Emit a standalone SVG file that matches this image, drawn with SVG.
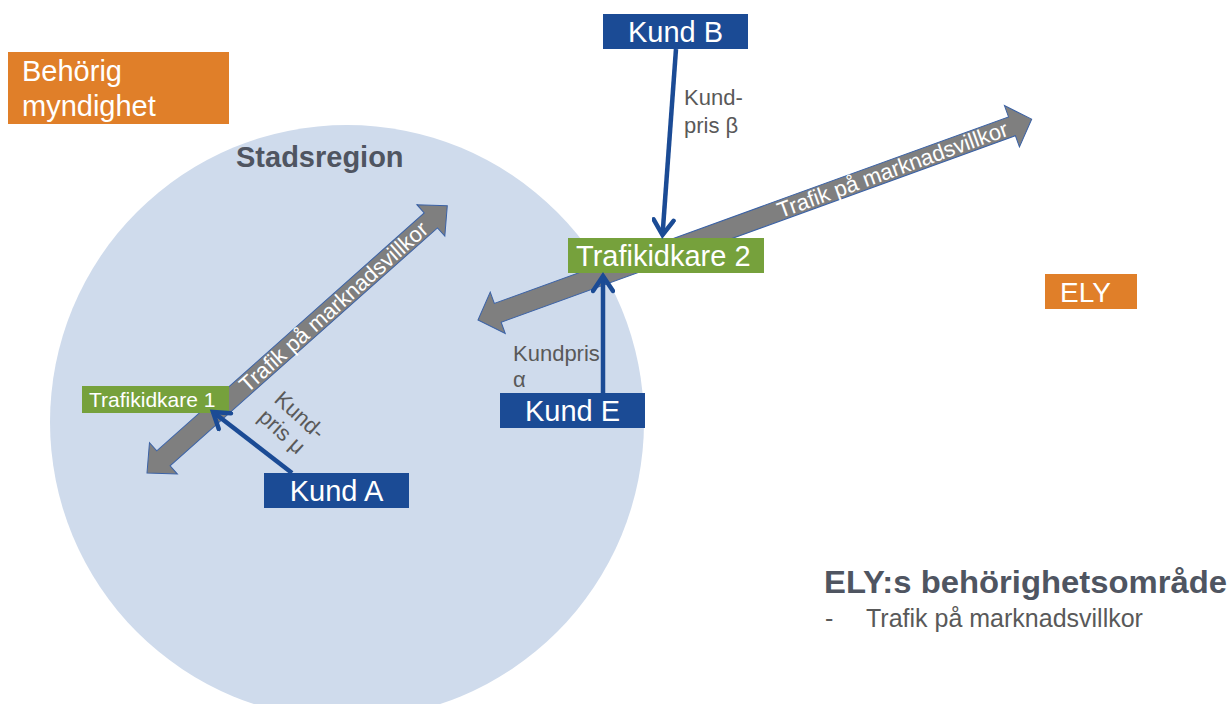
<svg xmlns="http://www.w3.org/2000/svg" width="1232" height="704" viewBox="0 0 1232 704">
<style>
.lbl{font-family:"Liberation Sans",Arial,sans-serif;fill:#ffffff}
.gray{font-family:"Liberation Sans",Arial,sans-serif;fill:#595959}
.bold{font-family:"Liberation Sans",Arial,sans-serif;font-weight:bold;fill:#4f5561}
.blue{fill:#1b4b95}
.orange{fill:#e07f29}
.green{fill:#76a13c}
.block{fill:#7f7f7f;stroke:#3b62a6;stroke-width:1}
.link{stroke:#1b4b95;stroke-width:4.5;fill:none;marker-end:url(#chev)}
</style>
<defs>
<marker id="chev" viewBox="0 0 24 24" refX="19" refY="12" markerWidth="24" markerHeight="24" markerUnits="userSpaceOnUse" orient="auto">
<path d="M4,2 L19,12 L4,22" fill="none" stroke="#1b4b95" stroke-width="4.5" stroke-linecap="round" stroke-linejoin="miter"/>
</marker>
</defs>
<rect width="1232" height="704" fill="#ffffff"/>
<g id="stadsregion">
<circle cx="347" cy="422" r="297" fill="#cfdbec"/>
<text class="bold" x="236" y="167" font-size="29">Stadsregion</text>
</g>
<g id="traffic-arrows">
<g transform="translate(147 473) rotate(-41.67)">
<polygon class="block" points="0,0 22,-21 22,-10 380,-10 380,-21 402,0 380,21 380,10 22,10 22,21"/>
<text class="lbl" x="128" y="7.5" font-size="22">Trafik på marknadsvillkor</text>
</g>
<g transform="translate(478 320) rotate(-19.94)">
<polygon class="block" points="0,0 21,-22 21,-10 568,-10 568,-22 589,0 568,22 568,10 21,10 21,22"/>
<text class="lbl" x="319" y="7.5" font-size="22">Trafik på marknadsvillkor</text>
</g>
</g>
<g id="behorig-myndighet">
<rect class="orange" x="8" y="52" width="221" height="72"/>
<text class="lbl" x="22" y="81" font-size="29">Behörig</text>
<text class="lbl" x="22" y="116" font-size="29">myndighet</text>
</g>
<g id="ely">
<rect class="orange" x="1045" y="274" width="92" height="35"/>
<text class="lbl" x="1060" y="302" font-size="28">ELY</text>
</g>
<g id="kund-b">
<rect class="blue" x="603" y="14" width="145" height="35"/>
<text class="lbl" x="675.5" y="42" font-size="29" text-anchor="middle">Kund B</text>
</g>
<g id="trafikidkare-2">
<rect class="green" x="568" y="238" width="196" height="35"/>
<text class="lbl" x="576" y="266" font-size="29">Trafikidkare 2</text>
</g>
<g id="kund-e">
<rect class="blue" x="500" y="393" width="145" height="35"/>
<text class="lbl" x="572.5" y="421" font-size="29" text-anchor="middle">Kund E</text>
</g>
<g id="trafikidkare-1">
<rect class="green" x="82" y="386" width="147" height="27"/>
<text class="lbl" x="89" y="407" font-size="21">Trafikidkare 1</text>
</g>
<g id="kund-a">
<rect class="blue" x="264" y="473" width="145" height="35"/>
<text class="lbl" x="336.5" y="501" font-size="29" text-anchor="middle">Kund A</text>
</g>
<g id="connectors">
<line class="link" x1="676" y1="49" x2="662.5" y2="235"/>
<line class="link" x1="603" y1="393" x2="603" y2="276"/>
<line class="link" x1="292" y1="473" x2="213" y2="412"/>
</g>
<g id="connector-labels">
<text class="gray" x="684" y="105" font-size="22">Kund-</text>
<text class="gray" x="684" y="133" font-size="22">pris β</text>
<text class="gray" x="513" y="361" font-size="22">Kundpris</text>
<text class="gray" x="513" y="387" font-size="22">α</text>
<g transform="translate(273 401) rotate(42)">
<text class="gray" x="0" y="0" font-size="22">Kund-</text>
<text class="gray" x="0" y="24" font-size="22">pris μ</text>
</g>
</g>
<g id="ely-omrade">
<text class="bold" x="824" y="593" font-size="31" textLength="403" lengthAdjust="spacingAndGlyphs">ELY:s behörighetsområde</text>
<text class="gray" x="825" y="627" font-size="25">-</text>
<text class="gray" x="866" y="627" font-size="25">Trafik på marknadsvillkor</text>
</g>
</svg>
